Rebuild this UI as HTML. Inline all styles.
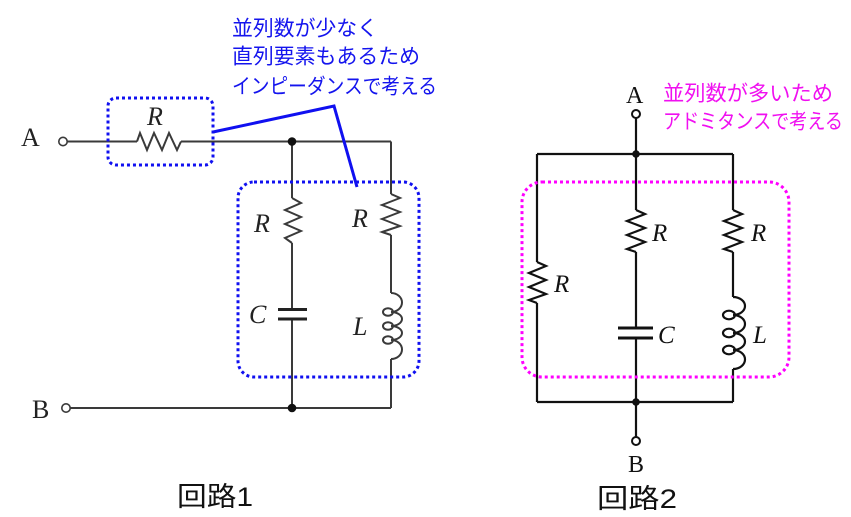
<!DOCTYPE html>
<html>
<head>
<meta charset="utf-8">
<style>
html,body{margin:0;padding:0;background:#fff;}
svg{display:block;}
.cj{font-family:"Liberation Sans","Noto Sans CJK JP",sans-serif;}
.sf{font-family:"Liberation Serif",serif;}
.it{font-family:"Liberation Serif",serif;font-style:italic;}
</style>
</head>
<body>
<svg width="851" height="517" viewBox="0 0 851 517" xmlns="http://www.w3.org/2000/svg">
<rect width="851" height="517" fill="#fff"/>

<!-- ============ Circuit 1 ============ -->
<g fill="none" stroke="#3a3a3a" stroke-width="2" stroke-linejoin="miter">
  <!-- top wire -->
  <line x1="67" y1="141.5" x2="137" y2="141.5"/>
  <polyline points="137,141.5 140,133 147,150 154,133 162,150 169,133 177,150 181,141.5"/>
  <line x1="181" y1="141.5" x2="391" y2="141.5"/>
  <!-- left branch -->
  <line x1="292" y1="141.5" x2="292" y2="198"/>
  <polyline points="292,198 301,203 285,210 301,217 285,224 301,231 285,238 292,243"/>
  <line x1="292" y1="243" x2="292" y2="309"/>
  <line x1="292" y1="319" x2="292" y2="408"/>
  <!-- right branch -->
  <line x1="391" y1="141.5" x2="391" y2="194"/>
  <polyline points="391,194 400,198 382,205 400,212 382,219 400,226 382,232 391,235"/>
  <line x1="391" y1="235" x2="391" y2="293"/>
  <path d="M391,293 A11,9.5 0 0 1 391,312 A11,7 0 0 1 391,326 A11,7 0 0 1 391,340 A11,9.5 0 0 1 391,359"/>
  <ellipse cx="388" cy="312" rx="5" ry="3.8"/>
  <ellipse cx="388" cy="326" rx="5" ry="3.8"/>
  <ellipse cx="388" cy="340" rx="5" ry="3.8"/>
  <line x1="391" y1="359" x2="391" y2="408"/>
  <!-- bottom wire -->
  <line x1="70" y1="408" x2="391" y2="408"/>
</g>
<!-- capacitor 1 -->
<g stroke="#222" stroke-width="3">
  <line x1="278" y1="309.5" x2="307" y2="309.5"/>
  <line x1="278" y1="319" x2="307" y2="319"/>
</g>
<!-- terminals & junctions -->
<circle cx="63" cy="141.5" r="4.2" fill="#fff" stroke="#3a3a3a" stroke-width="1.6"/>
<circle cx="66" cy="408" r="4.2" fill="#fff" stroke="#3a3a3a" stroke-width="1.6"/>
<circle cx="292" cy="141.5" r="4.3" fill="#111"/>
<circle cx="292" cy="408" r="4.3" fill="#111"/>

<!-- labels circuit 1 -->
<text class="sf" x="21" y="146" font-size="26" fill="#222">A</text>
<text class="sf" x="32" y="418" font-size="26" fill="#222">B</text>
<text class="it" x="147" y="125" font-size="26" fill="#222">R</text>
<text class="it" x="254" y="232" font-size="26" fill="#222">R</text>
<text class="it" x="352" y="227" font-size="26" fill="#222">R</text>
<text class="it" x="249" y="323" font-size="26" fill="#222">C</text>
<text class="it" x="353" y="335" font-size="26" fill="#222">L</text>

<!-- blue annotations -->
<g fill="none" stroke="#1010f0" stroke-width="3" stroke-dasharray="3 3">
  <rect x="108" y="98" width="105" height="67" rx="8"/>
  <rect x="238" y="182" width="181" height="195" rx="16"/>
</g>
<polyline points="213,132 334,106 357,187" fill="none" stroke="#1010f0" stroke-width="3"/>
<g class="cj" fill="#1414ee" font-size="21">
  <text x="232" y="35.5" textLength="146" lengthAdjust="spacingAndGlyphs">並列数が少なく</text>
  <text x="232" y="63.5" textLength="188" lengthAdjust="spacingAndGlyphs">直列要素もあるため</text>
  <text x="232" y="93.5" textLength="205" lengthAdjust="spacingAndGlyphs">インピーダンスで考える</text>
</g>

<!-- ============ Circuit 2 ============ -->
<g fill="none" stroke="#111" stroke-width="2.2">
  <line x1="636" y1="118" x2="636" y2="154"/>
  <line x1="537" y1="154" x2="733" y2="154"/>
  <!-- left -->
  <line x1="537" y1="154" x2="537" y2="262"/>
  <polyline points="537,262 546,266 529,273 546,280 529,287 546,294 529,300 537,303"/>
  <line x1="537" y1="303" x2="537" y2="402"/>
  <!-- middle -->
  <line x1="636" y1="154" x2="636" y2="210"/>
  <polyline points="636,210 645,214 627,221 645,228 627,235 645,242 627,249 636,252"/>
  <line x1="636" y1="252" x2="636" y2="328"/>
  <line x1="636" y1="338" x2="636" y2="437"/>
  <!-- right -->
  <line x1="733" y1="154" x2="733" y2="210"/>
  <polyline points="733,210 742,214 724,221 742,228 724,235 742,242 724,249 733,252"/>
  <line x1="733" y1="252" x2="733" y2="297"/>
  <path d="M733,297 A12,9 0 0 1 733,315 A12,9 0 0 1 733,333 A12,8.5 0 0 1 733,350 A12,9.5 0 0 1 733,369"/>
  <ellipse cx="729" cy="315" rx="6" ry="4.3"/>
  <ellipse cx="729" cy="333" rx="6" ry="4.3"/>
  <ellipse cx="729" cy="350" rx="6" ry="4.3"/>
  <line x1="733" y1="369" x2="733" y2="402"/>
  <line x1="537" y1="402" x2="733" y2="402"/>
</g>
<g stroke="#111" stroke-width="3">
  <line x1="618" y1="328" x2="653" y2="328"/>
  <line x1="618" y1="338" x2="653" y2="338"/>
</g>
<circle cx="636" cy="114" r="4" fill="#fff" stroke="#111" stroke-width="2"/>
<circle cx="636" cy="441" r="4" fill="#fff" stroke="#111" stroke-width="2"/>
<circle cx="636" cy="154" r="3.8" fill="#111"/>
<circle cx="636" cy="402" r="3.8" fill="#111"/>

<text class="sf" x="626" y="103" font-size="24" fill="#111">A</text>
<text class="sf" x="628" y="472" font-size="24" fill="#111">B</text>
<text class="it" x="554" y="292" font-size="25" fill="#111">R</text>
<text class="it" x="652" y="241" font-size="25" fill="#111">R</text>
<text class="it" x="751" y="241" font-size="25" fill="#111">R</text>
<text class="it" x="658" y="343" font-size="25" fill="#111">C</text>
<text class="it" x="753" y="343" font-size="25" fill="#111">L</text>

<rect x="522" y="182" width="267" height="195" rx="20" fill="none" stroke="#ff00ff" stroke-width="3" stroke-dasharray="3 3"/>
<g class="cj" fill="#f010f0" font-size="21">
  <text x="663" y="100.5" textLength="170" lengthAdjust="spacingAndGlyphs">並列数が多いため</text>
  <text x="663" y="128.5" textLength="180" lengthAdjust="spacingAndGlyphs">アドミタンスで考える</text>
</g>

<!-- captions -->
<g class="cj" fill="#111" font-size="27">
  <text x="177" y="506" textLength="76" lengthAdjust="spacingAndGlyphs">回路1</text>
  <text x="597" y="508" textLength="80" lengthAdjust="spacingAndGlyphs">回路2</text>
</g>
</svg>
</body>
</html>
